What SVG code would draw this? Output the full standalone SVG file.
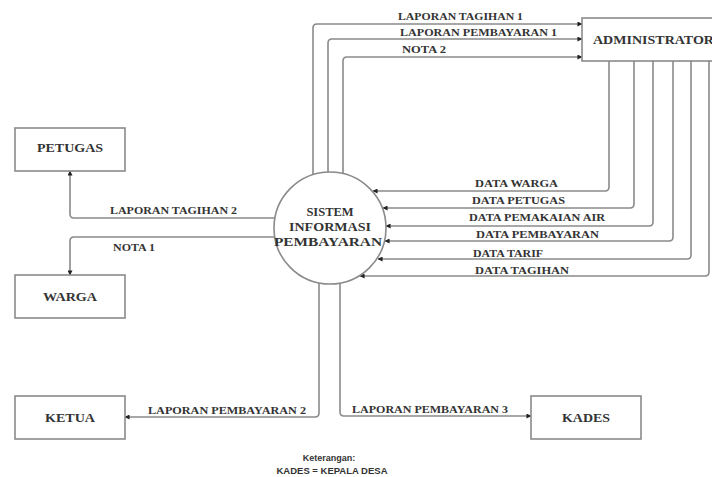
<svg xmlns="http://www.w3.org/2000/svg" width="712" height="477" viewBox="0 0 712 477">
<defs>
<marker id="ah" viewBox="0 0 6 6" refX="5.5" refY="3" markerWidth="5" markerHeight="5" orient="auto" markerUnits="userSpaceOnUse">
<path d="M0,0 L6,3 L0,6 z" fill="#222"/>
</marker>
<style>
.c{fill:none;stroke:#8a8a8a;stroke-width:1.6;marker-end:url(#ah)}
.b{fill:#fff;stroke:#8a8a8a;stroke-width:1.6}
.t{font-family:"Liberation Serif","Times New Roman",serif;font-weight:bold;font-size:11px;fill:#333}
.n{font-family:"Liberation Serif","Times New Roman",serif;font-weight:bold;font-size:12.5px;fill:#333;text-anchor:middle}
.k{font-family:"Liberation Sans",Arial,sans-serif;font-weight:bold;font-size:9px;fill:#333;text-anchor:middle}
</style>
</defs>
<rect width="712" height="477" fill="#fff"/>
<g id="connectors">
<path class="c" d="M313,180 V28 Q313,24 317,24 H582"/>
<path class="c" d="M328,180 V43 Q328,39 332,39 H582"/>
<path class="c" d="M343,180 V61 Q343,57 347,57 H582"/>
<path class="c" d="M609,61 V187 Q609,191 605,191 H373"/>
<path class="c" d="M634,61 V204 Q634,208 630,208 H383"/>
<path class="c" d="M653,61 V222 Q653,226 649,226 H386"/>
<path class="c" d="M673,61 V237 Q673,241 669,241 H385"/>
<path class="c" d="M691,61 V255 Q691,259 687,259 H378"/>
<path class="c" d="M709,61 V272 Q709,276 705,276 H360"/>
<path class="c" d="M280,218 H74 Q70,218 70,214 V171"/>
<path class="c" d="M280,237 H74 Q70,237 70,241 V275"/>
<path class="c" d="M319,278 V413 Q319,417 315,417 H125"/>
<path class="c" d="M340,278 V412 Q340,416 344,416 H531"/>
<text class="t" x="398" y="20" textLength="125" lengthAdjust="spacingAndGlyphs">LAPORAN TAGIHAN 1</text>
<text class="t" x="400" y="36" textLength="157" lengthAdjust="spacingAndGlyphs">LAPORAN PEMBAYARAN 1</text>
<text class="t" x="402" y="53" textLength="44" lengthAdjust="spacingAndGlyphs">NOTA 2</text>
<text class="t" x="475" y="187" textLength="83" lengthAdjust="spacingAndGlyphs">DATA WARGA</text>
<text class="t" x="472" y="204" textLength="93" lengthAdjust="spacingAndGlyphs">DATA PETUGAS</text>
<text class="t" x="469" y="221" textLength="136" lengthAdjust="spacingAndGlyphs">DATA PEMAKAIAN AIR</text>
<text class="t" x="476" y="238" textLength="123" lengthAdjust="spacingAndGlyphs">DATA PEMBAYARAN</text>
<text class="t" x="473" y="257" textLength="70" lengthAdjust="spacingAndGlyphs">DATA TARIF</text>
<text class="t" x="475" y="274" textLength="94" lengthAdjust="spacingAndGlyphs">DATA TAGIHAN</text>
<text class="t" x="110" y="214" textLength="127" lengthAdjust="spacingAndGlyphs">LAPORAN TAGIHAN 2</text>
<text class="t" x="113" y="251" textLength="42" lengthAdjust="spacingAndGlyphs">NOTA 1</text>
<text class="t" x="148" y="414" textLength="158" lengthAdjust="spacingAndGlyphs">LAPORAN PEMBAYARAN 2</text>
<text class="t" x="352" y="413" textLength="156" lengthAdjust="spacingAndGlyphs">LAPORAN PEMBAYARAN 3</text>
</g>
<g id="sistem">
<circle class="b" cx="330" cy="228" r="56"/>
<text class="n" x="330" y="216">SISTEM</text>
<text class="n" x="330" y="231" textLength="82" lengthAdjust="spacingAndGlyphs">INFORMASI</text>
<text class="n" x="328" y="246" textLength="108" lengthAdjust="spacingAndGlyphs">PEMBAYARAN</text>
</g>
<g id="administrator">
<rect class="b" x="582" y="18" width="140" height="43"/>
<text class="n" x="593" y="44" style="text-anchor:start" textLength="121" lengthAdjust="spacingAndGlyphs">ADMINISTRATOR</text>
</g>
<g id="petugas">
<rect class="b" x="15" y="128" width="110" height="43"/>
<text class="n" x="70" y="152" textLength="66" lengthAdjust="spacingAndGlyphs">PETUGAS</text>
</g>
<g id="warga">
<rect class="b" x="15" y="275" width="110" height="43"/>
<text class="n" x="70" y="301" textLength="54" lengthAdjust="spacingAndGlyphs">WARGA</text>
</g>
<g id="ketua">
<rect class="b" x="15" y="396" width="110" height="43"/>
<text class="n" x="70" y="422" textLength="50" lengthAdjust="spacingAndGlyphs">KETUA</text>
</g>
<g id="kades">
<rect class="b" x="531" y="396" width="110" height="43"/>
<text class="n" x="586" y="422" textLength="48" lengthAdjust="spacingAndGlyphs">KADES</text>
</g>
<g id="legend">
<text class="k" x="329" y="461">Keterangan:</text>
<text class="k" x="332" y="474" textLength="111" lengthAdjust="spacingAndGlyphs">KADES = KEPALA DESA</text>
</g>
</svg>
